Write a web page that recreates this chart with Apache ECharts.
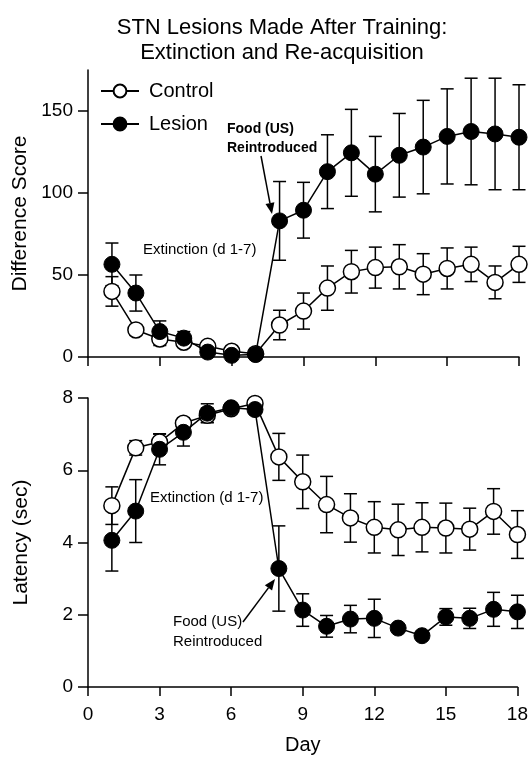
<!DOCTYPE html>
<html>
<head>
<meta charset="utf-8">
<script src="https://cdn.jsdelivr.net/npm/echarts@6/dist/echarts.min.js"></script>
<style>
  html, body { margin: 0; padding: 0; background: #fff; }
  #main { width: 531px; height: 757px; }
</style>
</head>
<body>
<div id="main"></div>
<script>
// days 1-18
var days = [1, 2, 3, 4, 5, 6, 7, 8, 9, 10, 11, 12, 13, 14, 15, 16, 17, 18];

// top panel: difference score (mean, sem)
var diffControl = [40, 16.5, 11, 9, 6.5, 3.5, 2, 19.5, 28, 42, 52, 54.5, 55, 50.5, 54, 56.5, 45.5, 56.5];
var diffControlErr = [9, 3, 4, 3, 2, 1.5, 1, 9, 11, 13.5, 13, 12.5, 13.5, 12.5, 12.5, 10.5, 10, 11];
var diffLesion = [56.5, 39, 15.5, 11.5, 3, 1, 1.5, 83, 89.5, 113, 124.5, 111.5, 123, 128, 134.5, 137.5, 136, 134];
var diffLesionErr = [13, 11, 6.5, 4, 1.5, 1, 1, 24, 17, 22.5, 26.5, 23, 25.5, 28.5, 29, 32.5, 34, 32];

// bottom panel: latency in seconds (mean, sem)
var latControl = [5.02, 6.62, 6.78, 7.3, 7.52, 7.7, 7.85, 6.37, 5.68, 5.05, 4.68, 4.42, 4.35, 4.42, 4.4, 4.37, 4.86, 4.22];
var latControlErr = [0.52, 0.2, 0.22, 0.15, 0.2, 0.1, 0.1, 0.65, 0.74, 0.78, 0.67, 0.71, 0.71, 0.68, 0.69, 0.58, 0.63, 0.66];
var latLesion = [4.06, 4.87, 6.58, 7.05, 7.58, 7.73, 7.68, 3.28, 2.13, 1.68, 1.88, 1.9, 1.63, 1.42, 1.94, 1.9, 2.15, 2.08];
var latLesionErr = [0.85, 0.87, 0.43, 0.38, 0.26, 0.1, 0.1, 1.18, 0.45, 0.3, 0.38, 0.53, 0.05, 0.05, 0.23, 0.28, 0.47, 0.46];

var xTicks = [0, 3, 6, 9, 12, 15, 18];
var diffTicks = [0, 50, 100, 150];
var latTicks = [0, 2, 4, 6, 8];

var FONT = 'Liberation Sans, Arial, sans-serif';

function pairs(ys) {
  return days.map(function (d, i) { return [d, ys[i]]; });
}
function triples(ys, es) {
  return days.map(function (d, i) { return [d, ys[i], es[i]]; });
}

function errorBars(idx, ys, es) {
  return {
    type: 'custom',
    xAxisIndex: idx,
    yAxisIndex: idx,
    z: 1,
    silent: true,
    data: triples(ys, es),
    renderItem: function (params, api) {
      var x = api.value(0), y = api.value(1), e = api.value(2);
      var hi = api.coord([x, y + e]);
      var lo = api.coord([x, y - e]);
      var w = 6.5;
      var st = { stroke: '#000', lineWidth: 1.5 };
      return {
        type: 'group',
        children: [
          { type: 'line', shape: { x1: hi[0], y1: hi[1], x2: lo[0], y2: lo[1] }, style: st },
          { type: 'line', shape: { x1: hi[0] - w, y1: hi[1], x2: hi[0] + w, y2: hi[1] }, style: st },
          { type: 'line', shape: { x1: lo[0] - w, y1: lo[1], x2: lo[0] + w, y2: lo[1] }, style: st }
        ]
      };
    }
  };
}

function lineSeries(name, idx, ys, open) {
  return {
    name: name,
    type: 'line',
    xAxisIndex: idx,
    yAxisIndex: idx,
    z: open ? 3 : 4,
    data: pairs(ys),
    symbol: 'circle',
    symbolSize: 16,
    showAllSymbol: true,
    clip: false,
    lineStyle: { color: '#000', width: 1.5 },
    itemStyle: open ? { color: '#fff', borderColor: '#000', borderWidth: 1.5 }
                    : { color: '#000', borderColor: '#000', borderWidth: 1 },
    emphasis: { disabled: true }
  };
}

function xAxis(idx, showLabels) {
  return {
    type: 'value',
    gridIndex: idx,
    min: 0, max: 18, interval: 3,
    name: showLabels ? 'Day' : '',
    nameLocation: 'middle',
    nameGap: 48,
    nameTextStyle: { color: '#000', fontSize: 20, fontFamily: FONT },
    axisLine: { onZero: false, lineStyle: { color: '#000', width: 1.5 } },
    axisTick: { inside: false, length: 9, lineStyle: { color: '#000', width: 1.5 } },
    axisLabel: { show: showLabels, margin: 18, color: '#000', fontSize: 19, fontFamily: FONT },
    splitLine: { show: false }
  };
}

function yAxis(idx, name, max, interval, ticks) {
  return {
    type: 'value',
    gridIndex: idx,
    min: 0, max: max, interval: interval,
    name: name,
    nameLocation: 'middle',
    nameGap: 56,
    nameRotate: 90,
    nameTextStyle: { color: '#000', fontSize: 21, fontFamily: FONT },
    axisLine: { show: true, onZero: false, lineStyle: { color: '#000', width: 1.5 } },
    axisTick: { show: true, inside: false, length: 10, customValues: ticks, lineStyle: { color: '#000', width: 1.5 } },
    axisLabel: { margin: 15, customValues: ticks, color: '#000', fontSize: 19, fontFamily: FONT },
    splitLine: { show: false }
  };
}

function arrow(x1, y1, x2, y2) {
  var ang = Math.atan2(y2 - y1, x2 - x1);
  var len = 11, half = 4.5;
  var bx = x2 - len * Math.cos(ang), by = y2 - len * Math.sin(ang);
  var px = -Math.sin(ang) * half, py = Math.cos(ang) * half;
  return [
    { type: 'line', shape: { x1: x1, y1: y1, x2: bx, y2: by }, style: { stroke: '#000', lineWidth: 1.5 }, z: 10 },
    { type: 'polygon', shape: { points: [[x2, y2], [bx + px, by + py], [bx - px, by - py]] }, style: { fill: '#000' }, z: 10 }
  ];
}

function label(txt, x, y, size, bold) {
  return {
    type: 'text', x: x, y: y, z: 10,
    style: { text: txt, fill: '#000', font: (bold ? 'bold ' : '') + size + 'px ' + FONT, verticalAlign: 'middle', align: 'left' }
  };
}

var chart = echarts.init(document.getElementById('main'), null, { renderer: 'canvas' });

var graphics = [
  label('Food (US)', 227, 129, 14, true),
  label('Reintroduced', 227, 148, 14, true),
  label('Extinction (d 1-7)', 143, 250, 15, false),
  label('Extinction (d 1-7)', 150, 498, 15, false),
  label('Food (US)', 173, 622, 15, false),
  label('Reintroduced', 173, 642, 15, false)
].concat(arrow(261, 156, 272, 214)).concat(arrow(243, 622, 275, 579));

var option = {
  animation: false,
  backgroundColor: '#fff',
  title: {
    text: 'STN Lesions Made After Training:\nExtinction and Re-acquisition',
    left: 277,
    top: 10,
    textAlign: 'center',
    textStyle: { color: '#000', fontSize: 22, fontWeight: 'normal', fontFamily: FONT, lineHeight: 25 }
  },
  legend: {
    data: ['Control', 'Lesion'],
    orient: 'vertical',
    left: 95,
    top: 76,
    itemWidth: 38,
    itemHeight: 16,
    itemGap: 13,
    selectedMode: false,
    textStyle: { color: '#000', fontSize: 20, fontFamily: FONT, padding: [0, 0, 0, 5] }
  },
  grid: [
    { left: 88, right: 12, top: 70, height: 287 },
    { left: 88, right: 12, top: 398, height: 289 }
  ],
  xAxis: [xAxis(0, false), xAxis(1, true)],
  yAxis: [
    yAxis(0, 'Difference Score', 175, 25, diffTicks),
    yAxis(1, 'Latency (sec)', 8, 2, latTicks)
  ],
  graphic: graphics,
  series: [
    errorBars(0, diffControl, diffControlErr),
    errorBars(0, diffLesion, diffLesionErr),
    errorBars(1, latControl, latControlErr),
    errorBars(1, latLesion, latLesionErr),
    lineSeries('Control', 0, diffControl, true),
    lineSeries('Lesion', 0, diffLesion, false),
    lineSeries('Control', 1, latControl, true),
    lineSeries('Lesion', 1, latLesion, false)
  ]
};

chart.setOption(option);
</script>
</body>
</html>
